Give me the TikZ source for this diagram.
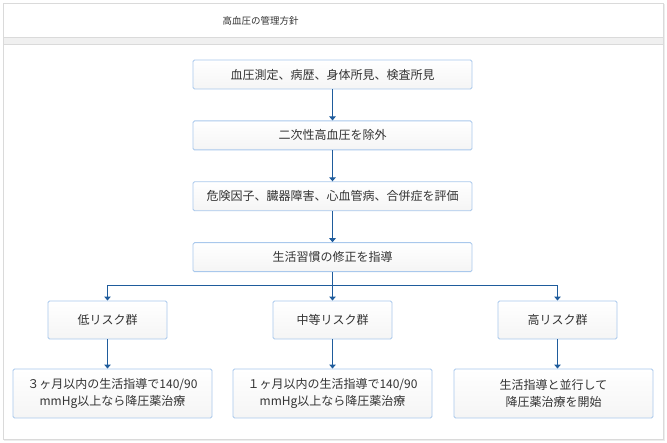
\documentclass[tikz,border=0pt]{standalone}
\usepackage{fontspec}
\setmainfont{Noto Sans CJK JP}
\usetikzlibrary{positioning}
\usetikzlibrary {arrows.meta}
\definecolor{flowblue}{HTML}{1F5C9C}
\definecolor{boxedge}{HTML}{A9C8EC}
\definecolor{paneledge}{HTML}{DADADA}
\definecolor{inktext}{HTML}{333333}
\tikzset{stepbox/.style={rectangle,draw=boxedge,top color=white,bottom color=black!4,
rounded corners=1.5pt,line width=0.9pt,inner sep=2pt,minimum height=29pt, minimum width=279pt,
text=inktext,font=\fontsize{12pt}{14pt}\selectfont}}
\tikzset{riskbox/.style={stepbox,minimum height=38pt, minimum width=119pt}}
\tikzset{planbox/.style={stepbox,minimum height=49pt, minimum width=199pt,align=center,
font=\fontsize{12pt}{16.5pt}\selectfont}}
\tikzset{flow/.style={line width=1pt,draw=flowblue,-{Triangle[width=6.5pt,length=4pt]}}}

\begin{document}
\begin{tikzpicture}[x=1pt,y=-1pt]
        \useasboundingbox (0,0) rectangle (667,443);
        % panel
        \draw[black!7,line width=1.5pt] (5,5) rectangle (664.5,440.5);
        \draw[paneledge,fill=white] (3.5,3.5) rectangle (663,439);
        \draw[paneledge,fill=black!6] (3.5,37) rectangle (663,44);
        \node[text=inktext,font=\fontsize{9.5pt}{11pt}\selectfont] (title) at (260.5,21) {高血圧の管理方針};

        \node[stepbox] (measure) at (332.5,74.5) {血圧測定、病歴、身体所見、検査所見};
        \node[stepbox] (exclude) [below=31pt of measure] {二次性高血圧を除外};
        \node[stepbox] (assess) [below=31pt of exclude] {危険因子、臓器障害、心血管病、合併症を評価};
        \node[stepbox] (lifestyle) [below=31pt of assess] {生活習慣の修正を指導};

        \node[riskbox] (low) at (107.5,320) {低リスク群};
        \node[riskbox] (middle) at (332.5,320) {中等リスク群};
        \node[riskbox] (high) at (557.5,320) {高リスク群};

        \node[planbox] (lowplan) at (112.5,393.5) {３ヶ月以内の生活指導で140/90\\mmHg以上なら降圧薬治療};
        \node[planbox] (midplan) at (332.5,393.5) {１ヶ月以内の生活指導で140/90\\mmHg以上なら降圧薬治療};
        \node[planbox] (highplan) at (553.5,393.5) {生活指導と並行して\\降圧薬治療を開始};

        \coordinate (split) at (332.5,285.7);

        \draw[flow] (measure) -- (exclude);
        \draw[flow] (exclude) -- (assess);
        \draw[flow] (assess) -- (lifestyle);
        \draw[flow] (lifestyle) -- (middle);
        \draw[flow] (split) -| (low);
        \draw[flow] (split) -| (high);

        \draw[flow] (low.south) -- (low.south |- lowplan.north);
        \draw[flow] (middle.south) -- (middle.south |- midplan.north);
        \draw[flow] (high.south) -- (high.south |- highplan.north);

    \end{tikzpicture}
\end{document}
